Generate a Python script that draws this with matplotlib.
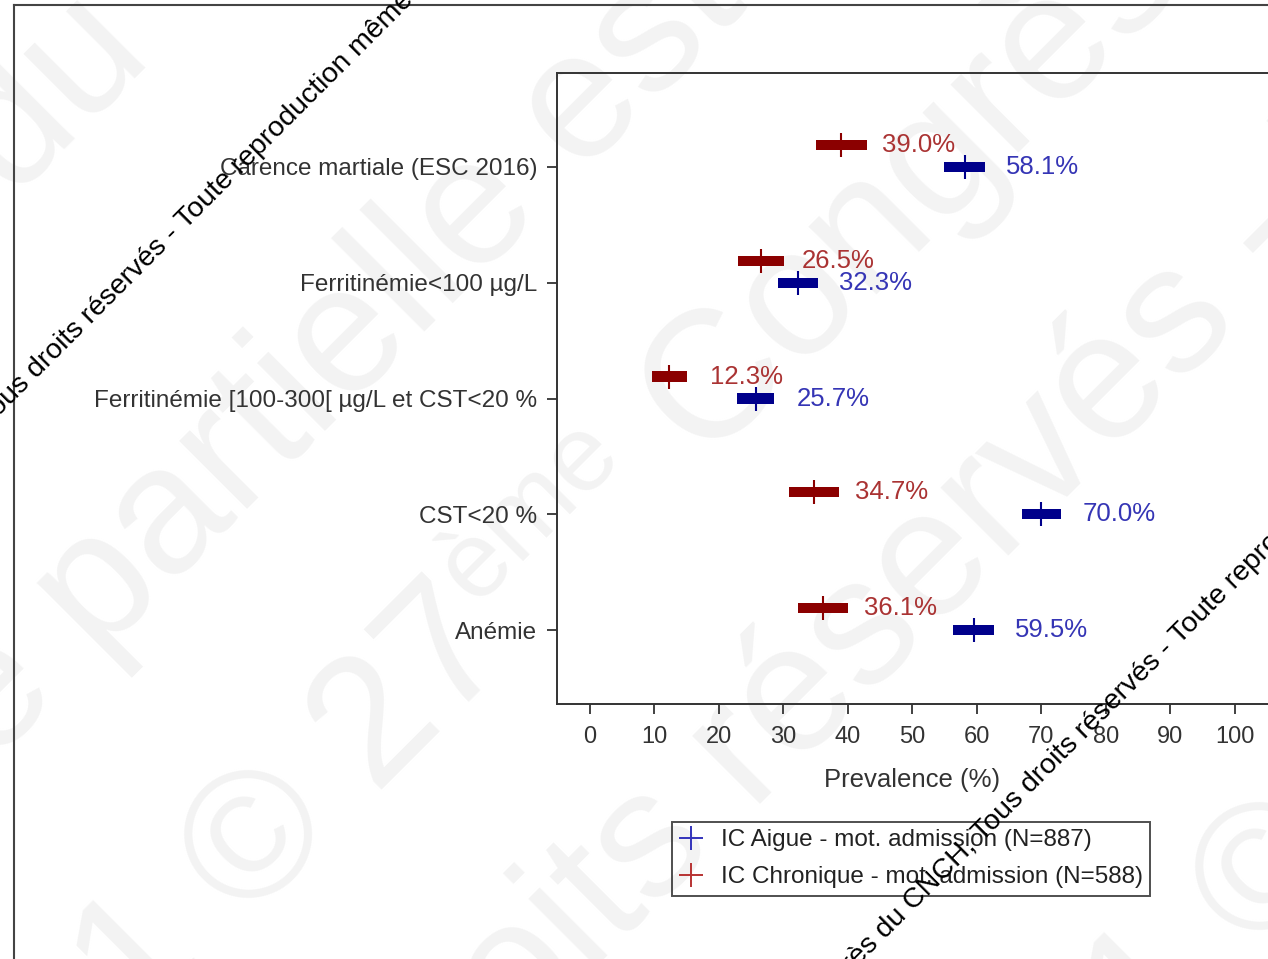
import matplotlib
matplotlib.use("Agg")
import matplotlib.pyplot as plt
from matplotlib.lines import Line2D
from matplotlib.font_manager import FontProperties
import numpy as np

# ---- data -------------------------------------------------------------
categories = [
    "Carence martiale (ESC 2016)",
    "Ferritinémie<100 µg/L",
    "Ferritinémie [100-300[ µg/L et CST<20 %",
    "CST<20 %",
    "Anémie",
]
aigue_label = "IC Aigue - mot. admission (N=887)"
chron_label = "IC Chronique - mot. admission (N=588)"

aigue_est = [58.1, 32.3, 25.7, 70.0, 59.5]
aigue_lo = [54.9, 29.2, 22.8, 67.0, 56.3]
aigue_hi = [61.3, 35.4, 28.6, 73.0, 62.7]

chron_est = [39.0, 26.5, 12.3, 34.7, 36.1]
chron_lo = [35.1, 22.9, 9.6, 30.9, 32.2]
chron_hi = [42.9, 30.1, 15.0, 38.6, 40.0]

x_ticks = [0, 10, 20, 30, 40, 50, 60, 70, 80, 90, 100]

# ---- styling ------------------------------------------------------------
W, H, DPI = 1268, 959, 100
FONT = ["Liberation Sans", "DejaVu Sans"]
plt.rcParams["font.family"] = FONT

BLUE_BAR, RED_BAR = "#00008b", "#8b0000"
BLUE_TXT, RED_TXT = "#3535b5", "#aa3333"
BLUE_LEG, RED_LEG = "#3333bb", "#b83333"
INK = "#333333"
WM_GREY = "#f3f3f3"

XMIN, XMAX = -5.1, 110.0
PX_PER_UNIT = 6.45

fig = plt.figure(figsize=(W / DPI, H / DPI), dpi=DPI)
fig.patch.set_facecolor("white")

ax_left, ax_top, ax_bottom = 557, 73, 704
ax_w = (XMAX - XMIN) * PX_PER_UNIT
ax = fig.add_axes([ax_left / W, 1 - ax_bottom / H, ax_w / W, (ax_bottom - ax_top) / H])
ax.set_facecolor("none")
ax.set_zorder(2)

n = len(categories)
ypos = np.arange(n)[::-1].astype(float)
offset = 0.19
bar_h = 0.09

# confidence bars
ax.barh(ypos, np.subtract(aigue_hi, aigue_lo), left=aigue_lo, height=bar_h,
        color=BLUE_BAR, edgecolor="none", zorder=3)
ax.barh(ypos + offset, np.subtract(chron_hi, chron_lo), left=chron_lo, height=bar_h,
        color=RED_BAR, edgecolor="none", zorder=3)
# point estimates
ax.plot(aigue_est, ypos, ls="none", marker="|", markersize=17, mew=1.5,
        color=BLUE_BAR, zorder=4)
ax.plot(chron_est, ypos + offset, ls="none", marker="|", markersize=17, mew=1.5,
        color=RED_BAR, zorder=4)

for v, y in zip(aigue_est, ypos):
    ax.annotate(f"{v:.1f}%", xy=(v, y), xytext=(29.5, 0), textcoords="offset points",
                ha="left", va="center", fontsize=18.5, color=BLUE_TXT, zorder=5)
for v, y in zip(chron_est, ypos + offset):
    ax.annotate(f"{v:.1f}%", xy=(v, y), xytext=(29.5, 0), textcoords="offset points",
                ha="left", va="center", fontsize=18.5, color=RED_TXT, zorder=5)

ax.set_xlim(XMIN, XMAX)
ax.set_ylim(-0.639, 4.812)
ax.set_xticks(x_ticks)
ax.set_xticklabels([str(t) for t in x_ticks])
ax.set_yticks(ypos)
ax.set_yticklabels(categories)
ax.tick_params(axis="both", direction="out", length=7, width=1.3, colors=INK)
ax.tick_params(axis="x", labelsize=17, pad=9)
ax.tick_params(axis="y", labelsize=17.5, pad=7)
for side in ("left", "bottom", "top"):
    ax.spines[side].set_color(INK)
    ax.spines[side].set_linewidth(1.4)
ax.spines["right"].set_visible(False)

ax.set_xlabel("Prevalence (%)", fontsize=18.5, color=INK)
ax.xaxis.set_label_coords((50 - XMIN) / (XMAX - XMIN), -0.101)

handles = [
    Line2D([], [], ls="none", marker="+", markersize=17, mew=1.4, color=BLUE_LEG),
    Line2D([], [], ls="none", marker="+", markersize=17, mew=1.4, color=RED_LEG),
]
leg = fig.legend(handles, [aigue_label, chron_label], loc="upper left",
                 bbox_to_anchor=(672 / W, 1 - 822 / H), bbox_transform=fig.transFigure,
                 borderaxespad=0, frameon=True, fancybox=False, fontsize=17.5,
                 borderpad=0.3, labelspacing=0.62, handlelength=1.0, handletextpad=0.72)
leg.get_frame().set_edgecolor("#222222")
leg.get_frame().set_linewidth(1.4)
leg.get_frame().set_facecolor("none")
for t in leg.get_texts():
    t.set_color("#222222")
leg.set_zorder(3)

# outer frame of the page
fig.add_artist(Line2D([14 / W, 14 / W], [0, 1 - 5 / H], transform=fig.transFigure,
                      color="#444444", lw=1.5, zorder=1))
fig.add_artist(Line2D([14 / W, 1], [1 - 5 / H, 1 - 5 / H], transform=fig.transFigure,
                      color="#444444", lw=1.5, zorder=1))

# ---- diagonal copyright notices --------------------------------------------
renderer = fig.canvas.get_renderer()


def text_w(s, size):
    w, _, _ = renderer.get_text_width_height_descent(
        s, FontProperties(family=FONT, size=size), ismath=False)
    return w


def put(x, y, s, size, color, z, ha, ang):
    fig.text(x / W, 1 - y / H, s, rotation=ang, rotation_mode="anchor", ha=ha,
             va="baseline", fontsize=size, color=color, zorder=z)


def notice(x0, y0, head, parts, size, color, z, ang=45):
    a = np.deg2rad(ang)
    ux, uy = np.cos(a), -np.sin(a)
    vx, vy = -np.sin(a), -np.cos(a)
    em = size * DPI / 72
    sp = 0.278 * em
    if head:
        put(x0 - sp * ux, y0 - sp * uy, head, size, color, z, "right", ang)
    x, y = x0, y0
    for text, scale, rise, gap in parts:
        s = size * scale
        put(x + rise * em * vx, y + rise * em * vy, text, s, color, z, "left", ang)
        w = text_w(text, s) + gap * em
        x += w * ux
        y += w * uy


BIG = 130
tail_c = [("© 27", 1, 0, 0.02), ("ème", 0.6, 0.36, 0.278),
          ("Congrès du CNCH, Tous droits réservés - Toute reproduction", 1, 0, 0)]
notice(12, 200, "© 27ème Congrès", [("du CNCH, Tous droits réservés", 1, 0, 0)],
       BIG, WM_GREY, -1)
notice(97, 659, "Tous droits réservés - Toute reproduction même",
       [("partielle est interdite 2021", 1, 0, 0)], BIG, WM_GREY, -1)
notice(246, 925, "interdite 2021", tail_c, BIG, WM_GREY, -1)
notice(752, 812, "Congrès du CNCH, Tous droits",
       [("réservés - Toute reproduction même partielle est interdite", 1, 0, 0)],
       BIG, WM_GREY, -1)
notice(1257, 957, "interdite 2021", tail_c, BIG, WM_GREY, -1)

SMALL = 20.5
head_s = "© 27ème Congrès du CNCH, Tous droits réservés -"
tail_s = [("Toute reproduction même partielle est interdite", 1, 0, 0)]
notice(186, 230, head_s, tail_s, SMALL, "black", 10)
notice(1180, 645, head_s, tail_s, SMALL, "black", 10)

fig.savefig("out.png", dpi=DPI)
